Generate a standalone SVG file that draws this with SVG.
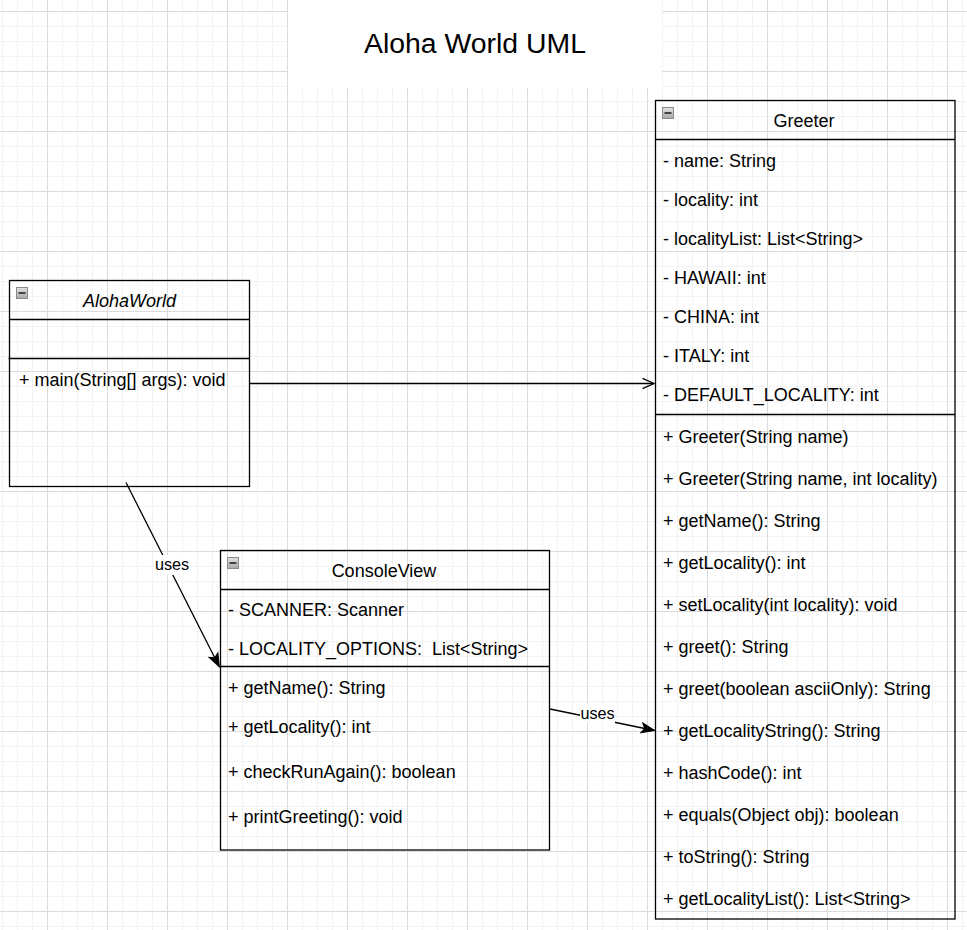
<svg xmlns="http://www.w3.org/2000/svg" width="967" height="930" viewBox="0 0 967 930">
  <style>
    .box{fill:none;stroke:#000;stroke-width:1.3}
    .div{stroke:#000;stroke-width:1.3}
    .edge{fill:none;stroke:#000;stroke-width:1.3}
    .t{font-family:"Liberation Sans",Arial,sans-serif;font-size:18px;fill:#000}
    .c{text-anchor:middle}
    .i{font-style:italic}
    .lbl{font-family:"Liberation Sans",Arial,sans-serif;font-size:16.2px;fill:#000;text-anchor:middle}
    .title{font-family:"Liberation Sans",Arial,sans-serif;font-size:28.4px;fill:#000;text-anchor:middle}
  </style>
  <defs>
    <pattern id="grid" patternUnits="userSpaceOnUse" x="47" y="11" width="60" height="60">
      <rect x="15" y="0" width="1" height="60" fill="#f3f3f3"/>
      <rect x="30" y="0" width="1" height="60" fill="#f3f3f3"/>
      <rect x="45" y="0" width="1" height="60" fill="#f3f3f3"/>
      <rect x="0" y="15" width="60" height="1" fill="#f3f3f3"/>
      <rect x="0" y="30" width="60" height="1" fill="#f3f3f3"/>
      <rect x="0" y="45" width="60" height="1" fill="#f3f3f3"/>
      <rect x="0" y="0" width="1" height="60" fill="#dcdcdc"/>
      <rect x="0" y="0" width="60" height="1" fill="#dcdcdc"/>
    </pattern>
    <linearGradient id="iconGrad" x1="0" y1="0" x2="0" y2="1">
      <stop offset="0" stop-color="#e4e4e4"/>
      <stop offset="1" stop-color="#a8a8a8"/>
    </linearGradient>
    <g id="collapse">
      <rect x="0" y="0" width="11" height="11" fill="url(#iconGrad)" stroke="#8a8a8a" stroke-width="1"/>
      <line x1="2" y1="5.5" x2="9" y2="5.5" stroke="#222" stroke-width="1.6"/>
    </g>
    <marker id="block" markerUnits="userSpaceOnUse" viewBox="-14 -7 15 14" refX="0" refY="0" markerWidth="15" markerHeight="14" orient="auto">
      <path d="M0,0 L-13,-5 L-10,0 L-13,5 Z" fill="#000" stroke="#000" stroke-width="1"/>
    </marker>
    <marker id="open" markerUnits="userSpaceOnUse" viewBox="-14 -7 15 14" refX="0" refY="0" markerWidth="15" markerHeight="14" orient="auto">
      <path d="M-11.5,-5.2 L0,0 L-11.5,5.2" fill="none" stroke="#000" stroke-width="1.3"/>
    </marker>
  </defs>

  <rect x="0" y="0" width="967" height="930" fill="#fff"/>
  <rect x="0" y="0" width="967" height="930" fill="url(#grid)"/>
  <rect x="288" y="0" width="374" height="88" fill="#fff"/>

  <g id="title">
    <text class="title" x="475" y="52.5">Aloha World UML</text>
  </g>

  <g id="connectors">
    <line class="edge" x1="250" y1="383.5" x2="654" y2="383.5" marker-end="url(#open)"/>
    <line class="edge" x1="126" y1="482.5" x2="219.3" y2="666.7" marker-end="url(#block)"/>
    <rect x="154" y="555" width="36" height="20" fill="#fff"/>
    <text class="lbl" x="172" y="570">uses</text>
    <line class="edge" x1="550" y1="709" x2="654.5" y2="730.5" marker-end="url(#block)"/>
    <rect x="580" y="704" width="35" height="19" fill="#fff"/>
    <text class="lbl" x="597.5" y="718.5">uses</text>
  </g>

  <g id="AlohaWorld">
    <rect class="box" x="9.5" y="280.5" width="240" height="206"/>
    <line class="div" x1="9.5" y1="319.5" x2="249.5" y2="319.5"/>
    <line class="div" x1="8.5" y1="358.5" x2="249.5" y2="358.5"/>
    <use href="#collapse" x="16.5" y="287.5"/>
    <text class="t c i" x="129.5" y="306.5">AlohaWorld</text>
    <text class="t" x="19" y="385.5">+ main(String[] args): void</text>
  </g>

  <g id="ConsoleView">
    <rect class="box" x="220.5" y="550.5" width="329" height="299.5"/>
    <line class="div" x1="220.5" y1="589.5" x2="549.5" y2="589.5"/>
    <line class="div" x1="220.5" y1="666.5" x2="549.5" y2="666.5"/>
    <use href="#collapse" x="227.5" y="557.5"/>
    <text class="t c" x="384" y="576.5">ConsoleView</text>
    <text class="t" x="228" y="615.5">- SCANNER: Scanner</text>
    <text class="t" x="228" y="654.5" xml:space="preserve">- LOCALITY_OPTIONS:  List&lt;String&gt;</text>
    <text class="t" x="228" y="693.5">+ getName(): String</text>
    <text class="t" x="228" y="732.5">+ getLocality(): int</text>
    <text class="t" x="228" y="777.5">+ checkRunAgain(): boolean</text>
    <text class="t" x="228" y="822.5">+ printGreeting(): void</text>
  </g>

  <g id="Greeter">
    <rect class="box" x="655.5" y="100.5" width="299.5" height="818.5"/>
    <line class="div" x1="655.5" y1="139.5" x2="955" y2="139.5"/>
    <line class="div" x1="655.5" y1="414.5" x2="955" y2="414.5"/>
    <use href="#collapse" x="662.5" y="107.5"/>
    <text class="t c" x="804" y="126.5">Greeter</text>
    <text class="t" x="663" y="166.5">- name: String</text>
    <text class="t" x="663" y="205.5">- locality: int</text>
    <text class="t" x="663" y="244.5">- localityList: List&lt;String&gt;</text>
    <text class="t" x="663" y="283.5">- HAWAII: int</text>
    <text class="t" x="663" y="322.5">- CHINA: int</text>
    <text class="t" x="663" y="361.5">- ITALY: int</text>
    <text class="t" x="663" y="400.5">- DEFAULT_LOCALITY: int</text>
    <text class="t" x="663" y="442.5">+ Greeter(String name)</text>
    <text class="t" x="663" y="484.5">+ Greeter(String name, int locality)</text>
    <text class="t" x="663" y="526.5">+ getName(): String</text>
    <text class="t" x="663" y="568.5">+ getLocality(): int</text>
    <text class="t" x="663" y="610.5">+ setLocality(int locality): void</text>
    <text class="t" x="663" y="652.5">+ greet(): String</text>
    <text class="t" x="663" y="694.5">+ greet(boolean asciiOnly): String</text>
    <text class="t" x="663" y="736.5">+ getLocalityString(): String</text>
    <text class="t" x="663" y="778.5">+ hashCode(): int</text>
    <text class="t" x="663" y="820.5">+ equals(Object obj): boolean</text>
    <text class="t" x="663" y="862.5">+ toString(): String</text>
    <text class="t" x="663" y="904.5">+ getLocalityList(): List&lt;String&gt;</text>
  </g>
</svg>
